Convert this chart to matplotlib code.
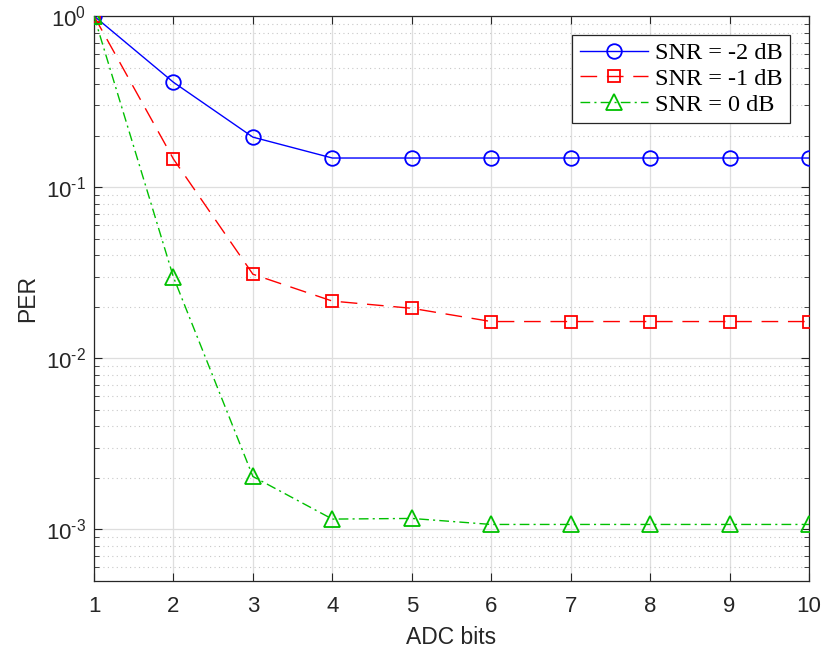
import matplotlib
matplotlib.use("Agg")
import matplotlib.pyplot as plt
from matplotlib.ticker import LogLocator, NullFormatter, FixedLocator, FuncFormatter
import numpy as np

# PER versus ADC resolution for three SNR values
adc_bits = [1, 2, 3, 4, 5, 6, 7, 8, 9, 10]
per_snr_m2 = [1.0, 0.41, 0.196, 0.148, 0.148, 0.148, 0.148, 0.148, 0.148, 0.148]
per_snr_m1 = [1.0, 0.146, 0.031, 0.0216, 0.0196, 0.0164, 0.0164, 0.0164, 0.0164, 0.0164]
per_snr_0 = [1.0, 0.0298, 0.00204, 0.00115, 0.00116, 0.00107, 0.00107, 0.00107, 0.00107, 0.00107]
labels = ["SNR = -2 dB", "SNR = -1 dB", "SNR = 0 dB"]
xlabel = "ADC bits"
ylabel = "PER"

sans = ["Liberation Sans", "DejaVu Sans"]
serif = ["Liberation Serif", "DejaVu Serif"]
axcol = "#262626"
plt.rcParams["mathtext.fontset"] = "custom"
plt.rcParams["mathtext.rm"] = "Liberation Sans"
plt.rcParams["mathtext.it"] = "Liberation Sans"

fig = plt.figure(figsize=(8.23, 6.52), dpi=100)
ax = fig.add_axes([94 / 823, 1 - 581 / 652, (809 - 94) / 823, (581 - 16) / 652])

ax.semilogy(adc_bits, per_snr_m2, color="#0000FF", lw=1.0, ls="-",
            marker="o", ms=10.5, mfc="none", mew=1.3, label=labels[0], zorder=3)
ax.semilogy(adc_bits, per_snr_m1, color="#FF0000", lw=1.0, dashes=(12, 7),
            marker="s", ms=8.5, mfc="none", mew=1.3, label=labels[1], zorder=3)
ax.semilogy(adc_bits, per_snr_0, color="#00C000", lw=1.0, dashes=(7, 3, 1.5, 3),
            marker="^", ms=11, mfc="none", mew=1.3, label=labels[2], zorder=3)

ax.set_xlim(1, 10)
ax.set_ylim(5e-4, 1)
ax.xaxis.set_major_locator(FixedLocator(adc_bits))
ax.yaxis.set_major_locator(LogLocator(base=10, numticks=10))
ax.yaxis.set_minor_locator(LogLocator(base=10, subs=range(2, 10), numticks=20))
ax.yaxis.set_minor_formatter(NullFormatter())


def decade_label(v, pos):
    e = int(round(np.log10(v)))
    return r"$\mathregular{10^{%s}}$" % (r"\text{-}%d" % -e if e < 0 else "%d" % e)


ax.yaxis.set_major_formatter(FuncFormatter(decade_label))

ax.grid(True, which="major", color="#dedede", lw=0.9, ls="-", zorder=0)
ax.grid(True, which="minor", axis="y", color="#c8c8c8", lw=0.8, ls=(0, (1, 3)), zorder=0)
ax.set_axisbelow(True)

ax.tick_params(which="both", direction="in", top=True, right=True, colors=axcol)
ax.tick_params(which="major", length=6, width=0.8, labelsize=16)
ax.tick_params(axis="x", which="major", pad=11)
ax.tick_params(axis="y", which="major", pad=6)
ax.tick_params(which="minor", length=3.5, width=0.6)
for lab in ax.get_xticklabels() + ax.get_yticklabels():
    lab.set_family(sans)
for s in ax.spines.values():
    s.set_color(axcol)
    s.set_linewidth(0.9)

ax.set_xlabel(xlabel, fontsize=16.5, family=sans, color=axcol, labelpad=6)
ax.set_ylabel(ylabel, fontsize=16.5, family=sans, color=axcol, labelpad=5)

leg = ax.legend(loc="upper right", bbox_to_anchor=(0.9734, 0.9664),
                prop={"family": serif, "size": 17.5}, fancybox=False,
                framealpha=1, edgecolor="#262626", handlelength=2.8,
                borderpad=0.3, labelspacing=0.15, handletextpad=0.3,
                borderaxespad=0.0)
leg.get_frame().set_linewidth(0.9)

fig.savefig("out.png", dpi=100)
